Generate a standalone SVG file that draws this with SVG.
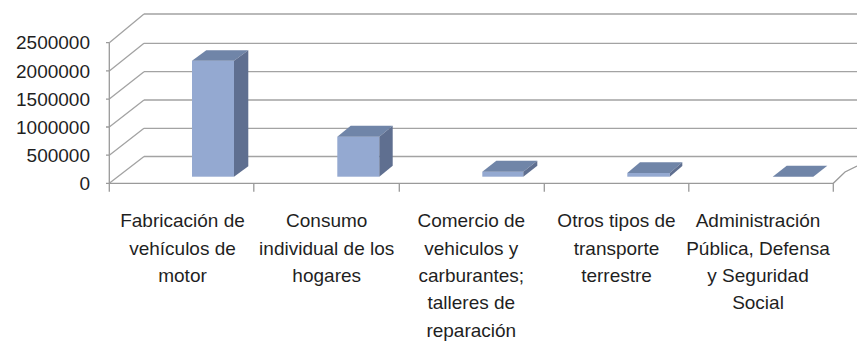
<svg xmlns="http://www.w3.org/2000/svg" width="857" height="342" viewBox="0 0 857 342">
<style>
.grid{stroke:#a3a3a3;stroke-width:1.3;fill:none}
.axis{stroke:#9a9a9a;stroke-width:1.3;fill:none}
.front{fill:#94a9d1}
.top{fill:#7085a8}
.side{fill:#5f6f90}
.lbl{font-family:"Liberation Sans",Arial,sans-serif;font-size:19px;fill:#1f1f1f}
.ylbl{font-family:"Liberation Sans",Arial,sans-serif;font-size:19px;fill:#1f1f1f;text-anchor:end}
.cat{text-anchor:middle}
</style>
<rect width="857" height="342" fill="#ffffff"/>
<g id="gridlines">
<path class="grid" d="M144,14H857M144,43.3H857M144,71.7H857M144,100H857M144,128.3H857M144,156.5H857"/>
<path class="grid" d="M109.3,42.7L144,14M109.3,70.9L144,43.3M109.3,99.1L144,71.7M109.3,127L144,100M109.3,155.2L144,128.3M109.3,183.3L144,156.5"/>
</g>
<g id="axes">
<path class="axis" d="M109.3,42.7V191.7M106,42.7H109.3M106,70.9H109.3M106,99.1H109.3M106,127H109.3M106,155.2H109.3M106,183.3H109.3"/>
<path class="axis" d="M109.3,183.3H833.3L845,172L857,166"/>
<path class="axis" d="M253.8,183.3V191.7M399.3,183.3V191.7M544.3,183.3V191.7M688.8,183.3V191.7M833.3,183.3V191.7"/>
</g>
<g id="y-labels">
<text class="ylbl" x="90" y="49.3">2500000</text>
<text class="ylbl" x="90" y="77.5">2000000</text>
<text class="ylbl" x="90" y="105.7">1500000</text>
<text class="ylbl" x="90" y="133.6">1000000</text>
<text class="ylbl" x="90" y="161.6">500000</text>
<text class="ylbl" x="90" y="189.8">0</text>
</g>
<g id="bar1">
<rect class="front" x="192" y="60.7" width="42" height="116"/>
<polygon class="top" points="192,60.7 234,60.7 248.3,50.2 206.3,50.2"/>
<polygon class="side" points="234,60.7 248.3,50.2 248.3,166.2 234,176.7"/>
</g>
<g id="bar2">
<rect class="front" x="337.3" y="136.7" width="42" height="40"/>
<polygon class="top" points="337.3,136.7 379.3,136.7 392.7,125.8 350.7,125.8"/>
<polygon class="side" points="379.3,136.7 392.7,125.8 392.7,165.8 379.3,176.7"/>
</g>
<g id="bar3">
<rect class="front" x="482.3" y="171.7" width="41" height="5"/>
<polygon class="top" points="482.3,171.7 523.3,171.7 537.3,160.8 496.3,160.8"/>
<polygon class="side" points="523.3,171.7 537.3,160.8 537.3,165.8 523.3,176.7"/>
</g>
<g id="bar4">
<rect class="front" x="627.3" y="173" width="42.5" height="3.7"/>
<polygon class="top" points="627.3,173 669.8,173 682.3,162.3 640,162.3"/>
<polygon class="side" points="669.8,173 682.3,162.3 682.3,166 669.8,176.7"/>
</g>
<g id="bar5">
<polygon class="top" points="772.7,176.7 813.3,176.7 827.3,165.7 786.7,165.7"/>
</g>
<g id="cat-labels" class="lbl">
<text class="cat" x="182.5" y="227.3">Fabricación de</text>
<text class="cat" x="182.5" y="254.7">vehículos de</text>
<text class="cat" x="182.5" y="282">motor</text>
<text class="cat" x="326.7" y="227.3">Consumo</text>
<text class="cat" x="326.7" y="254.7">individual de los</text>
<text class="cat" x="326.7" y="282">hogares</text>
<text class="cat" x="471.3" y="227.3">Comercio de</text>
<text class="cat" x="471.3" y="254.7">vehiculos y</text>
<text class="cat" x="471.3" y="282">carburantes;</text>
<text class="cat" x="471.3" y="309.4">talleres de</text>
<text class="cat" x="471.3" y="336.8">reparación</text>
<text class="cat" x="616.5" y="227.3">Otros tipos de</text>
<text class="cat" x="616.5" y="254.7">transporte</text>
<text class="cat" x="616.5" y="282">terrestre</text>
<text class="cat" x="758" y="227.3">Administración</text>
<text class="cat" x="758" y="254.7">Pública, Defensa</text>
<text class="cat" x="758" y="282">y Seguridad</text>
<text class="cat" x="758" y="309.4">Social</text>
</g>
</svg>
